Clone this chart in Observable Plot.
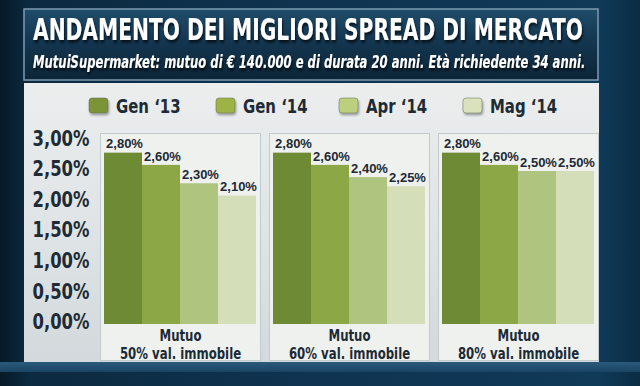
<!DOCTYPE html>
<html>
<head>
<meta charset="utf-8">
<script src="https://cdn.jsdelivr.net/npm/d3@7"></script>
<script src="https://cdn.jsdelivr.net/npm/@observablehq/plot@0.6"></script>
<style>
  html, body { margin: 0; padding: 0; }
  body {
    width: 640px; height: 386px; overflow: hidden; position: relative;
    background: linear-gradient(90deg, #071a28 0px, #0c2a40 30px, #0f3350 300px, #0f3a58 600px, #0b2c44 640px);
  }
  #panel {
    position: absolute; left: 24px; top: 83px; width: 575px; height: 279px;
    background: linear-gradient(180deg, #eceeee 0%, #dde2e4 60%, #d3d9dc 100%);
  }
  #strip {
    position: absolute; left: 0; top: 362px; width: 640px; height: 10px;
    background: linear-gradient(180deg, #2a5a7c, #1b4463);
  }
  #header { position: absolute; left: 0; top: 0; }
  #chart { position: absolute; left: 0; top: 130px; }
  .cond { font-family: "DejaVu Sans Condensed", "DejaVu Sans", sans-serif; }
</style>
</head>
<body>
<div id="panel"></div>
<div id="strip"></div>
<svg id="header" width="640" height="130"></svg>
<div id="chart"></div>
<script>
const title = "ANDAMENTO DEI MIGLIORI SPREAD DI MERCATO";
const subtitle = "MutuiSupermarket: mutuo di € 140.000 e di durata 20 anni. Età richiedente 34 anni.";
const categories = ["50%", "60%", "80%"];
const facetLabels = ["Mutuo\n50% val. immobile", "Mutuo\n60% val. immobile", "Mutuo\n80% val. immobile"];
const series = ["Gen \u201813", "Gen \u201814", "Apr \u201814", "Mag \u201814"];
const values50 = [2.80, 2.60, 2.30, 2.10];
const values60 = [2.80, 2.60, 2.40, 2.25];
const values80 = [2.80, 2.60, 2.50, 2.50];
const yTicks = [0, 0.5, 1, 1.5, 2, 2.5, 3];
const barColors = ["#6f8a34", "#8ba746", "#afc47f", "#d4deb8"];
const swatchColors = ["#7b9338", "#9db345", "#bccf7e", "#d9e2bd"];

const fmt = v => v.toFixed(2).replace(".", ",") + "%";
const allValues = [values50, values60, values80];
const data = categories.flatMap((c, i) => series.map((s, j) => ({cat: c, series: s, value: allValues[i][j]})));
const facetRows = categories.map((c, i) => ({cat: c, label: facetLabels[i]}));

// squeeze a text horizontally (like a condensed face) while keeping it real text
function squeeze(el, factor) {
  const targets = el.querySelectorAll("tspan").length ? el.querySelectorAll("tspan") : [el];
  targets.forEach(t => {
    const w = t.getComputedTextLength();
    if (w > 0) {
      t.setAttribute("textLength", (w * factor).toFixed(1));
      t.setAttribute("lengthAdjust", "spacingAndGlyphs");
    }
  });
}

// Header + legend
const NS = "http://www.w3.org/2000/svg";
const header = document.getElementById("header");
header.innerHTML = `
<defs>
  <linearGradient id="tb" x1="0" y1="0" x2="0" y2="1">
    <stop offset="0" stop-color="#1f4d6a"/>
    <stop offset="0.45" stop-color="#143650"/>
    <stop offset="1" stop-color="#0c2538"/>
  </linearGradient>
  <filter id="sh" x="-5%" y="-20%" width="110%" height="150%">
    <feDropShadow dx="1" dy="2" stdDeviation="1" flood-color="#000" flood-opacity="0.7"/>
  </filter>
  <filter id="sw" x="-30%" y="-30%" width="170%" height="170%">
    <feDropShadow dx="1" dy="2" stdDeviation="1.2" flood-color="#000" flood-opacity="0.35"/>
  </filter>
</defs>
<rect x="24" y="9" width="574" height="71" fill="url(#tb)" stroke="#7c9bb1" stroke-width="1.5"/>
`;
function addText(parent, attrs, txt) {
  const t = document.createElementNS(NS, "text");
  for (const k in attrs) t.setAttribute(k, attrs[k]);
  t.textContent = txt;
  parent.appendChild(t);
  return t;
}
// text fitted to a width: natural width equals target, then stretched vertically
function fitted(txt, x, y, size, width, attrs) {
  const g = document.createElementNS(NS, "g");
  header.appendChild(g);
  const t = addText(g, Object.assign({x: 0, y: 0, "font-size": size}, attrs), txt);
  const w = t.getComputedTextLength();
  const fs = size * width / w;
  t.setAttribute("font-size", fs.toFixed(2));
  g.setAttribute("transform", `translate(${x},${y}) scale(1,${(size / fs).toFixed(3)})`);
  return t;
}
fitted(title, 33, 40, 30, 550, {"font-weight": "bold", fill: "#ffffff", class: "cond", filter: "url(#sh)"});
fitted(subtitle, 33, 68, 17, 553, {"font-style": "italic", "font-weight": "bold", fill: "#ffffff", class: "cond", filter: "url(#sh)"});

const legendX = [89, 216, 339, 463];
series.forEach((s, i) => {
  const r = document.createElementNS(NS, "rect");
  r.setAttribute("x", legendX[i]); r.setAttribute("y", 98);
  r.setAttribute("width", 19); r.setAttribute("height", 15);
  r.setAttribute("rx", 3); r.setAttribute("fill", swatchColors[i]);
  r.setAttribute("stroke", "#5d6b55"); r.setAttribute("stroke-opacity", 0.5);
  r.setAttribute("filter", "url(#sw)");
  header.appendChild(r);
  const t = addText(header, {x: legendX[i] + 27, y: 113, "font-size": 19.5, "font-weight": "bold", fill: "#1e2b34", class: "cond"}, s);
  squeeze(t, 0.85);
});

const fontFam = '"DejaVu Sans Condensed", "DejaVu Sans", sans-serif';
const chart = Plot.plot({
  width: 640,
  height: 232,
  marginLeft: 100,
  marginRight: 42,
  marginTop: 3,
  marginBottom: 2,
  style: {background: "transparent", overflow: "visible"},
  fx: {domain: categories, paddingInner: 0.055, paddingOuter: 0, axis: null, label: null},
  x: {domain: series, paddingInner: 0, paddingOuter: 0.105, axis: null, label: null},
  y: {domain: [-0.588, 3.121], axis: null, label: null},
  color: {domain: series, range: barColors},
  marks: [
    Plot.frame({fill: "#eff1ef", stroke: "#c3cacd", strokeWidth: 1}),
    Plot.barY(data, {fx: "cat", x: "series", y: "value", fill: "series"}),
    Plot.text(data, {fx: "cat", x: "series", y: "value", text: d => fmt(d.value),
      dy: -9, dx: 1, fontFamily: '"Liberation Sans", Arial, sans-serif', fontWeight: "bold", fontSize: 13, fill: "#1c2a35"}),
    Plot.text(facetRows, {fx: "cat", y: -0.327, text: "label", lineHeight: 1.1, lineAnchor: "middle",
      fontFamily: fontFam, fontWeight: "bold", fontSize: 16.5, fill: "#1c2a35"}),
    Plot.axisY(yTicks, {tickSize: 0, tickPadding: 11, tickFormat: fmt, dy: -2, label: null,
      fontFamily: fontFam, fontWeight: "bold", fontSize: 21, fill: "#1e2b35"})
  ]
});
document.getElementById("chart").appendChild(chart);

// condensed look for the axis labels and panel captions
chart.querySelectorAll('g[aria-label="y-axis tick label"] text').forEach(t => squeeze(t, 0.87));
chart.querySelectorAll('g[aria-label="text"] text').forEach(t => {
  if (t.querySelectorAll("tspan").length) squeeze(t, 0.79);
});
</script>
</body>
</html>
